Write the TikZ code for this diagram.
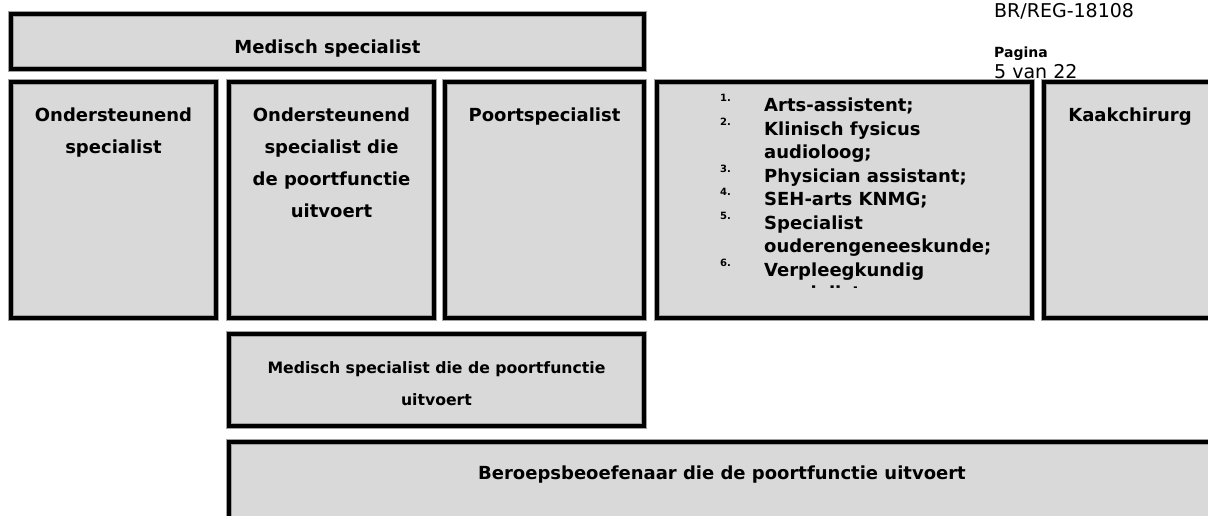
\documentclass[tikz,border=0pt]{standalone}
\usepackage{fontspec}
\setmainfont{DejaVu Sans}
\definecolor{boxgray}{HTML}{D9D9D9}
\definecolor{edgegray}{HTML}{A0A0A0}
\begin{document}
\begin{tikzpicture}[x=1pt,y=-1pt,
  box/.style={fill=boxgray, draw=edgegray, double=black, double distance=4.6pt, line width=0.55pt, inner sep=0pt, outer sep=0pt},
  lbl/.style={font=\bfseries\fontsize{18}{18}\selectfont, anchor=base, inner sep=0pt},
  sml/.style={font=\bfseries\fontsize{15.7}{15.7}\selectfont, anchor=base, inner sep=0pt},
  item/.style={font=\bfseries\fontsize{18}{18}\selectfont, anchor=base west, inner sep=0pt},
  num/.style={font=\bfseries\fontsize{10}{10}\selectfont, anchor=base west, inner sep=0pt},
  hdr/.style={font=\fontsize{19}{19}\selectfont, anchor=base west, inner sep=0pt}]
\clip (0,0) rectangle (1208,515);
% header texts
\node[hdr] (ref) at (994,17) {BR/REG-18108};
\node[font=\bfseries\fontsize{14}{14}\selectfont, anchor=base west, inner sep=0pt] (pag) at (994,57) {Pagina};
\node[hdr] (pnum) at (994,78) {5 van 22};
% boxes
\node[box, minimum width=633.3pt, minimum height=55.3pt] (b0) at (327.5,41.5) {};
\node[box, minimum width=205.3pt, minimum height=236.3pt] (b1) at (113.5,200) {};
\node[box, minimum width=205.3pt, minimum height=236.3pt] (b2) at (331.5,200) {};
\node[box, minimum width=199.3pt, minimum height=236.3pt] (b3) at (544.5,200) {};
\node[box, minimum width=375.3pt, minimum height=236.3pt] (b4) at (844.5,200) {};
\node[box, minimum width=175.3pt, minimum height=236.3pt] (b5) at (1131.5,200) {};
\node[box, minimum width=415.3pt, minimum height=92.3pt] (b6) at (436.5,380) {};
\node[box, minimum width=990.3pt, minimum height=85.3pt] (b7) at (724,484.5) {};
% texts
\node[lbl] (t0) at (327.5,53) {Medisch specialist};
\node[lbl] (t1a) at (113.5,121.5) {Ondersteunend};
\node[lbl] (t1b) at (113.5,153.5) {specialist};
\node[lbl] (t2a) at (331.5,121.5) {Ondersteunend};
\node[lbl] (t2b) at (331.5,153.5) {specialist die};
\node[lbl] (t2c) at (331.5,185.5) {de poortfunctie};
\node[lbl] (t2d) at (331.5,217.5) {uitvoert};
\node[lbl] (t3) at (544.5,121.5) {Poortspecialist};
\node[lbl] (t5) at (1130,121.5) {Kaakchirurg};
\node[sml] (t6a) at (436.5,373) {Medisch specialist die de poortfunctie};
\node[sml] (t6b) at (436.5,405) {uitvoert};
\node[lbl] (t7) at (722,479.5) {Beroepsbeoefenaar die de poortfunctie uitvoert};
% list
\begin{scope}
\clip (660,86) rectangle (1029,287.5);
\node[num] (n1) at (720,101.5) {1.};
\node[item] (i1) at (764,111.5) {Arts-assistent;};
\node[num] (n2) at (720,125) {2.};
\node[item] (i2) at (764,135) {Klinisch fysicus};
\node[item] (i2b) at (764,158.5) {audioloog;};
\node[num] (n3) at (720,172) {3.};
\node[item] (i3) at (764,182) {Physician assistant;};
\node[num] (n4) at (720,195.5) {4.};
\node[item] (i4) at (764,205.5) {SEH-arts KNMG;};
\node[num] (n5) at (720,219) {5.};
\node[item] (i5) at (764,229) {Specialist};
\node[item] (i5b) at (764,252.5) {ouderengeneeskunde;};
\node[num] (n6) at (720,266) {6.};
\node[item] (i6) at (764,276) {Verpleegkundig};
\node[item] (i6b) at (764,299.5) {specialist};
\end{scope}
\end{tikzpicture}
\end{document}
